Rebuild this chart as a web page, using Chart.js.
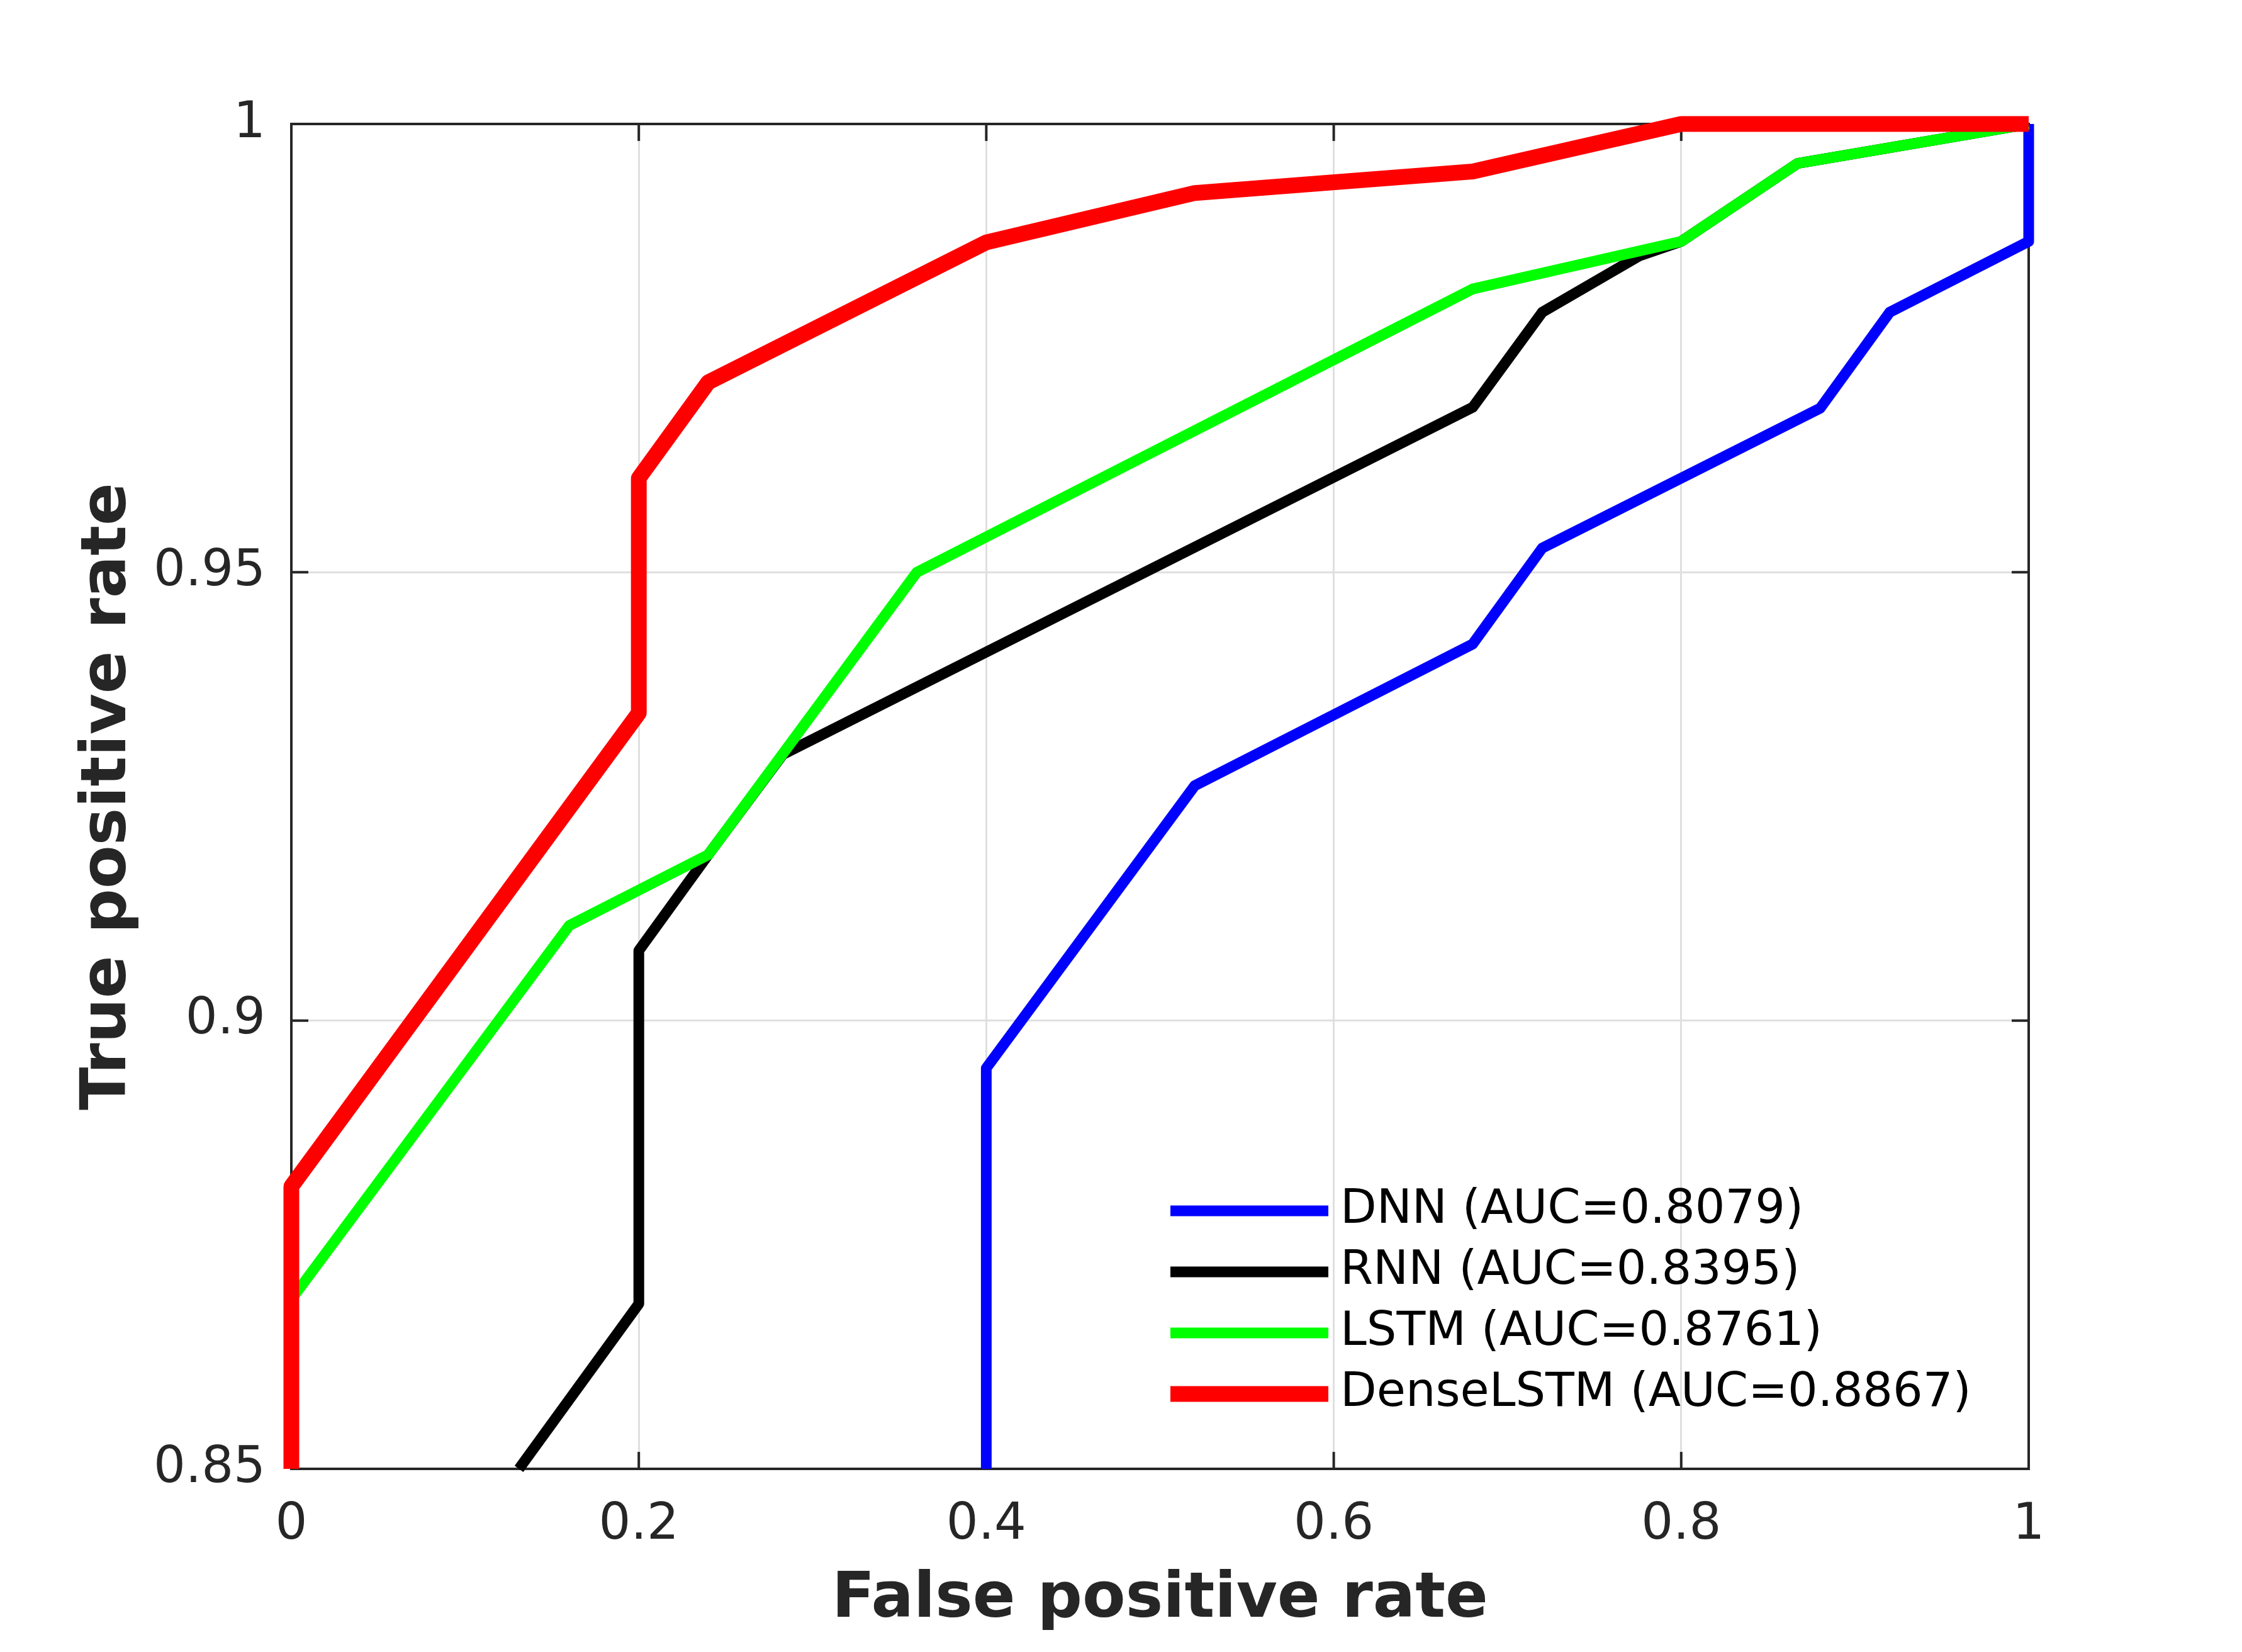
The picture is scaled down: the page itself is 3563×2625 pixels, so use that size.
<!DOCTYPE html>
<html lang="en">
<head>
    <meta charset="UTF-8">
    <title>ROC curves</title>
    <script src="https://cdn.jsdelivr.net/npm/chart.js"></script>
    <style>
        body {
            margin: 0;
            padding: 0;
            background-color: #fff;
        }

        .container {
            width: 3563px;
            height: 2625px;
            position: relative;
        }
    </style>
</head>
<body>
    <div class="container">
        <canvas id="rocChart"></canvas>
    </div>
    <script>
        // Series labels and colours
        const seriesNames = ['DNN (AUC=0.8079)', 'RNN (AUC=0.8395)', 'LSTM (AUC=0.8761)', 'DenseLSTM (AUC=0.8867)'];
        const seriesColors = ['#0000ff', '#000000', '#00ff00', '#ff0000'];

        // ROC points (false positive rate / true positive rate)
        const dnnFpr = [0.40, 0.40, 0.52, 0.68, 0.72, 0.88, 0.92, 1.00, 1.00];
        const dnnTpr = [0.85, 0.8947, 0.9262, 0.9420, 0.9527, 0.9683, 0.9790, 0.9869, 1.00];

        const rnnFpr = [0.131, 0.20, 0.20, 0.24, 0.283, 0.68, 0.72, 0.776, 0.80, 0.867, 1.00];
        const rnnTpr = [0.85, 0.8684, 0.9078, 0.9185, 0.9297, 0.9684, 0.9790, 0.9853, 0.9869, 0.9956, 1.00];

        const lstmFpr = [0.00, 0.00, 0.16, 0.24, 0.36, 0.68, 0.80, 0.867, 1.00];
        const lstmTpr = [0.85, 0.8689, 0.9106, 0.9185, 0.9500, 0.9816, 0.9869, 0.9956, 1.00];

        const denseFpr = [0.00, 0.00, 0.20, 0.20, 0.24, 0.40, 0.52, 0.68, 0.80, 1.00];
        const denseTpr = [0.85, 0.8815, 0.9343, 0.9605, 0.9712, 0.9868, 0.9923, 0.9947, 1.00, 1.00];

        // Axis ticks
        const xTickValues = [0, 0.2, 0.4, 0.6, 0.8, 1];
        const xTickLabels = ['0', '0.2', '0.4', '0.6', '0.8', '1'];
        const yTickValues = [0.85, 0.9, 0.95, 1];
        const yTickLabels = ['0.85', '0.9', '0.95', '1'];

        const textColor = '#262626';
        const fontFamily = "'DejaVu Sans', sans-serif";

        function toPoints(xs, ys) {
            return xs.map((x, i) => ({ x: x, y: ys[i] }));
        }

        const seriesData = [
            toPoints(dnnFpr, dnnTpr),
            toPoints(rnnFpr, rnnTpr),
            toPoints(lstmFpr, lstmTpr),
            toPoints(denseFpr, denseTpr)
        ];
        const lineWidths = [17, 17, 17, 25];

        // Top/right box lines and inward tick marks, drawn under the curves
        const axesBox = {
            id: 'axesBox',
            beforeDatasetsDraw(chart) {
                const { ctx, chartArea: a, scales } = chart;
                const tickLen = 27;
                ctx.save();
                ctx.strokeStyle = textColor;
                ctx.lineWidth = 4;
                ctx.beginPath();
                ctx.moveTo(a.left, a.top);
                ctx.lineTo(a.right, a.top);
                ctx.lineTo(a.right, a.bottom);
                xTickValues.forEach(v => {
                    const px = scales.x.getPixelForValue(v);
                    ctx.moveTo(px, a.bottom);
                    ctx.lineTo(px, a.bottom - tickLen);
                    ctx.moveTo(px, a.top);
                    ctx.lineTo(px, a.top + tickLen);
                });
                yTickValues.forEach(v => {
                    const py = scales.y.getPixelForValue(v);
                    ctx.moveTo(a.left, py);
                    ctx.lineTo(a.left + tickLen, py);
                    ctx.moveTo(a.right, py);
                    ctx.lineTo(a.right - tickLen, py);
                });
                ctx.stroke();
                ctx.restore();
            }
        };

        // Legend without a box, inside the lower right of the plot
        const innerLegend = {
            id: 'innerLegend',
            afterDatasetsDraw(chart) {
                const { ctx, chartArea: a } = chart;
                const lineStart = a.left + 1397;
                const lineEnd = a.left + 1648;
                const textX = a.left + 1667;
                const firstRow = a.top + 1727;
                const rowGap = 97;
                ctx.save();
                ctx.font = "75px " + fontFamily;
                ctx.textBaseline = 'middle';
                ctx.textAlign = 'left';
                chart.data.datasets.forEach((ds, i) => {
                    const y = firstRow + i * rowGap;
                    ctx.strokeStyle = ds.borderColor;
                    ctx.lineWidth = ds.borderWidth;
                    ctx.lineCap = 'butt';
                    ctx.beginPath();
                    ctx.moveTo(lineStart, y);
                    ctx.lineTo(lineEnd, y);
                    ctx.stroke();
                    ctx.fillStyle = '#000';
                    ctx.fillText(ds.label, textX, y);
                });
                ctx.restore();
            }
        };

        const ctx = document.getElementById('rocChart').getContext('2d');
        const rocChart = new Chart(ctx, {
            type: 'scatter',
            data: {
                datasets: seriesNames.map((name, i) => ({
                    label: name,
                    data: seriesData[i],
                    // later series are painted on top, like the original plot
                    order: seriesNames.length - 1 - i,
                    showLine: true,
                    borderColor: seriesColors[i],
                    backgroundColor: seriesColors[i],
                    borderWidth: lineWidths[i],
                    borderJoinStyle: 'round',
                    borderCapStyle: 'butt',
                    pointRadius: 0,
                    pointHoverRadius: 0,
                    tension: 0,
                    clip: false
                }))
            },
            options: {
                responsive: true,
                maintainAspectRatio: false,
                devicePixelRatio: 1,
                animation: false,
                events: [],
                layout: {
                    padding: { top: 197, right: 339, bottom: 0, left: 0 }
                },
                plugins: {
                    legend: { display: false },
                    tooltip: { enabled: false }
                },
                scales: {
                    x: {
                        type: 'linear',
                        min: 0,
                        max: 1,
                        afterBuildTicks: scale => {
                            scale.ticks = xTickValues.map(v => ({ value: v }));
                        },
                        afterFit: scale => {
                            scale.height = 291;
                        },
                        ticks: {
                            callback: (value, index) => xTickLabels[index],
                            color: textColor,
                            padding: 50,
                            maxRotation: 0,
                            font: { family: fontFamily, size: 80, lineHeight: 1 }
                        },
                        grid: {
                            color: '#dfdfdf',
                            lineWidth: 3,
                            drawTicks: false
                        },
                        border: { color: textColor, width: 4 },
                        title: {
                            display: true,
                            text: 'False positive rate',
                            color: textColor,
                            padding: { top: 0, bottom: 32 },
                            font: { family: fontFamily, size: 100, weight: 'bold', lineHeight: 1 }
                        }
                    },
                    y: {
                        type: 'linear',
                        min: 0.85,
                        max: 1,
                        afterBuildTicks: scale => {
                            scale.ticks = yTickValues.map(v => ({ value: v }));
                        },
                        afterFit: scale => {
                            scale.width = 463;
                        },
                        ticks: {
                            callback: (value, index) => yTickLabels[index],
                            color: textColor,
                            padding: 41,
                            font: { family: fontFamily, size: 80, lineHeight: 1 }
                        },
                        grid: {
                            color: '#dfdfdf',
                            lineWidth: 3,
                            drawTicks: false
                        },
                        border: { color: textColor, width: 4 },
                        title: {
                            display: true,
                            text: 'True positive rate',
                            color: textColor,
                            padding: { top: 123, bottom: 0 },
                            font: { family: fontFamily, size: 100, weight: 'bold', lineHeight: 1 }
                        }
                    }
                }
            },
            plugins: [axesBox, innerLegend]
        });
    </script>
</body>
</html>
